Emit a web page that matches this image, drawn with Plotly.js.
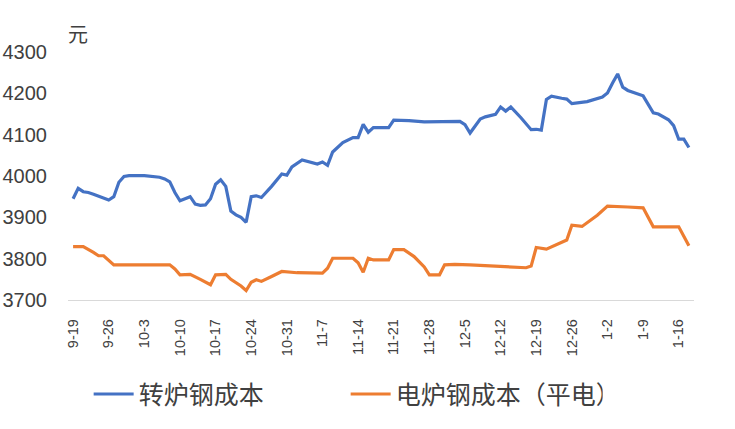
<!DOCTYPE html>
<html>
<head>
<meta charset="utf-8">
<script src="https://cdn.plot.ly/plotly-3.0.1.min.js"></script>
<style>html,body{margin:0;padding:0;background:#fff}#chart{width:735px;height:429px}</style>
</head>
<body>
<div id="chart"></div>
<script>
// Blue series: 转炉钢成本 (date, value)
const bofDates = ["2022-09-19","2022-09-20","2022-09-21","2022-09-22","2022-09-23","2022-09-25","2022-09-26","2022-09-27","2022-09-28","2022-09-29","2022-09-30","2022-10-03","2022-10-06","2022-10-07","2022-10-08","2022-10-09","2022-10-10","2022-10-11","2022-10-12","2022-10-13","2022-10-14","2022-10-15","2022-10-16","2022-10-17","2022-10-18","2022-10-19","2022-10-20","2022-10-21","2022-10-22","2022-10-23","2022-10-24","2022-10-25","2022-10-26","2022-10-28","2022-10-30","2022-10-31","2022-11-01","2022-11-03","2022-11-05","2022-11-06","2022-11-07","2022-11-08","2022-11-09","2022-11-11","2022-11-13","2022-11-14","2022-11-15","2022-11-16","2022-11-17","2022-11-20","2022-11-21","2022-11-24","2022-11-27","2022-12-04","2022-12-05","2022-12-06","2022-12-08","2022-12-09","2022-12-11","2022-12-12","2022-12-13","2022-12-14","2022-12-16","2022-12-18","2022-12-19","2022-12-20","2022-12-21","2022-12-22","2022-12-24","2022-12-25","2022-12-26","2022-12-28","2022-12-29","2023-01-01","2023-01-02","2023-01-03","2023-01-04","2023-01-05","2023-01-06","2023-01-09","2023-01-11","2023-01-12","2023-01-14","2023-01-15","2023-01-16","2023-01-17","2023-01-18"];
const bofValues = [3945,3970,3962,3960,3956,3948,3942,3950,3985,3999,4001,4001,3997,3993,3986,3960,3940,3945,3950,3932,3929,3930,3945,3980,3991,3975,3915,3906,3900,3888,3950,3952,3948,3975,4005,4002,4022,4039,4032,4029,4034,4026,4058,4081,4093,4093,4125,4106,4117,4117,4135,4134,4131,4132,4124,4104,4138,4143,4149,4167,4157,4167,4141,4112,4113,4111,4185,4193,4188,4186,4175,4179,4180,4191,4201,4225,4247,4215,4207,4194,4153,4150,4136,4122,4089,4089,4069];
// Orange series: 电炉钢成本（平电）
const eafDates = ["2022-09-19","2022-09-21","2022-09-23","2022-09-24","2022-09-25","2022-09-27","2022-10-08","2022-10-09","2022-10-10","2022-10-12","2022-10-14","2022-10-16","2022-10-17","2022-10-19","2022-10-20","2022-10-22","2022-10-23","2022-10-24","2022-10-25","2022-10-26","2022-10-28","2022-10-30","2022-11-02","2022-11-06","2022-11-07","2022-11-08","2022-11-09","2022-11-13","2022-11-14","2022-11-15","2022-11-16","2022-11-17","2022-11-20","2022-11-21","2022-11-23","2022-11-25","2022-11-27","2022-11-28","2022-11-30","2022-12-01","2022-12-03","2022-12-06","2022-12-14","2022-12-17","2022-12-18","2022-12-19","2022-12-21","2022-12-23","2022-12-24","2022-12-25","2022-12-26","2022-12-28","2022-12-31","2023-01-02","2023-01-06","2023-01-09","2023-01-11","2023-01-16","2023-01-18"];
const eafValues = [3829,3829,3815,3807,3807,3785,3785,3775,3761,3762,3750,3737,3761,3762,3750,3734,3723,3743,3749,3745,3757,3769,3766,3766,3765,3777,3801,3801,3790,3767,3801,3797,3797,3822,3822,3805,3780,3761,3761,3785,3786,3785,3781,3778,3782,3827,3823,3834,3840,3845,3881,3878,3905,3927,3925,3923,3877,3877,3831];
// X tick labels (weekly)
const tickDates = ["2022-09-19","2022-09-26","2022-10-03","2022-10-10","2022-10-17","2022-10-24","2022-10-31","2022-11-07","2022-11-14","2022-11-21","2022-11-28","2022-12-05","2022-12-12","2022-12-19","2022-12-26","2023-01-02","2023-01-09","2023-01-16"];
const tickLabels = ["9-19","9-26","10-3","10-10","10-17","10-24","10-31","11-7","11-14","11-21","11-28","12-5","12-12","12-19","12-26","1-2","1-9","1-16"];
const yTicks = [3700,3800,3900,4000,4100,4200,4300];

const FONT = "Liberation Sans, Arial, Noto Sans CJK SC, sans-serif";
const traces = [
  {x: bofDates, y: bofValues, type: "scatter", mode: "lines", name: "转炉钢成本",
   line: {color: "#4472C4", width: 3.2}},
  {x: eafDates, y: eafValues, type: "scatter", mode: "lines", name: "电炉钢成本（平电）",
   line: {color: "#ED7D31", width: 3.2}}
];
const layout = {
  width: 735, height: 429,
  margin: {l: 68, r: 41, t: 52, b: 127},
  paper_bgcolor: "#fff", plot_bgcolor: "#fff",
  font: {family: FONT, color: "#404040"},
  showlegend: true,
  xaxis: {
    type: "date",
    range: ["2022-09-18", "2023-01-19"],
    tickvals: tickDates, ticktext: tickLabels,
    tickangle: -90,
    tickfont: {size: 14.5, color: "#404040"},
    showgrid: false, zeroline: false,
    showline: true, linecolor: "#D9D9D9", linewidth: 1.3,
    ticks: "", ticklabelstandoff: 12
  },
  yaxis: {
    range: [3700, 4300],
    tickvals: yTicks,
    tickfont: {size: 20, color: "#404040"},
    showgrid: false, zeroline: false, showline: false,
    ticks: "", ticklabelstandoff: 20
  },
  legend: {
    orientation: "h", x: 0.033, xanchor: "left", y: -0.38, yanchor: "middle",
    font: {size: 25, family: "Noto Sans CJK SC, sans-serif", color: "#404040"},
    entrywidth: 202, itemwidth: 40, traceorder: "normal"
  },
  annotations: [{
    text: "元", xref: "paper", yref: "paper", x: 0.016, y: 1.076,
    xanchor: "center", yanchor: "middle", showarrow: false,
    font: {size: 20, family: "Noto Sans CJK SC, sans-serif", color: "#404040"}
  }]
};
Plotly.newPlot("chart", traces, layout, {displayModeBar: false, staticPlot: true});
</script>
</body>
</html>
